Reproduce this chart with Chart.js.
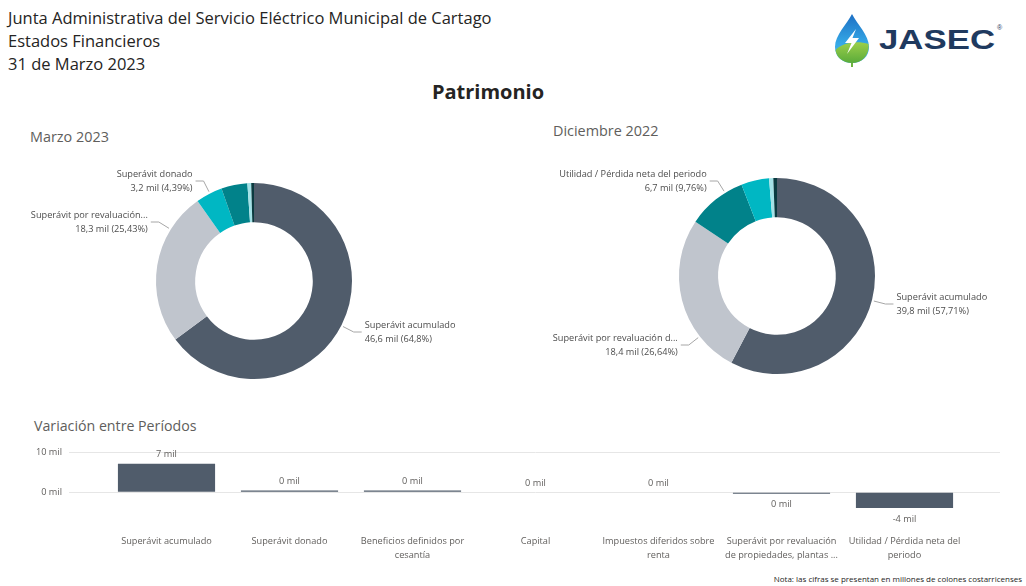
<!DOCTYPE html>
<html lang="es">
<head>
<meta charset="utf-8">
<title>Patrimonio</title>
<script src="https://cdn.jsdelivr.net/npm/chart.js@4.4.1/dist/chart.umd.min.js"></script>
<style>
  html, body { margin: 0; padding: 0; background: #fff; }
  body { width: 1026px; height: 586px; position: relative; overflow: hidden;
         font-family: "Open Sans", "Noto Sans", sans-serif; color: #252423; }
  .abs { position: absolute; white-space: nowrap; }
  #hdr { left: 8px; top: 6px; font-size: 16.5px; line-height: 23px; }
  #main { left: 0; width: 976px; top: 78px; text-align: center; font-weight: 700; font-size: 20px; line-height: 28px; }
  .sub { font-size: 14.4px; color: #605E5C; line-height: 18px; }
  #t1 { left: 30px; top: 128px; }
  #t2 { left: 553px; top: 122px; }
  #t3 { left: 34px; top: 417px; font-size: 14.2px; }
  #note { right: 4px; top: 573px; font-size: 8px; line-height: 12px; }
  canvas { position: absolute; }
  #logo { position: absolute; left: 826px; top: 10px; }
</style>
</head>
<body>
<div id="hdr" class="abs">Junta Administrativa del Servicio Eléctrico Municipal de Cartago<br>Estados Financieros<br>31 de Marzo 2023</div>

<svg id="logo" width="200" height="60" viewBox="0 0 200 60">
  <defs>
    <linearGradient id="gBlue" x1="0" y1="0" x2="0" y2="1">
      <stop offset="0" stop-color="#1d6fc4"/>
      <stop offset="0.6" stop-color="#35a8e6"/>
      <stop offset="1" stop-color="#54b9e8"/>
    </linearGradient>
    <linearGradient id="gGreen" x1="0" y1="0" x2="0" y2="1">
      <stop offset="0" stop-color="#9ccf4a"/>
      <stop offset="1" stop-color="#5aab3a"/>
    </linearGradient>
  </defs>
  <path d="M26 4 C21 14 9 25 9 37 C9 47 16.5 53 26 53 C35.5 53 43 47 43 37 C43 25 31 14 26 4 Z" fill="url(#gBlue)"/>
  <path d="M9.5 40 C16 33 30 30 42.6 34 C43.5 46 35.5 53 26 53 C17 53 10.5 47.5 9.5 40 Z" fill="url(#gGreen)"/>
  <path d="M26 53 L26 57" stroke="#6cb33f" stroke-width="2"/>
  <path d="M30 19 L19 33 L25.5 33 L21 44 L33 28 L26.5 28 Z" fill="#ffffff"/>
  <text x="53" y="38.5" font-family="Liberation Sans, Arial, sans-serif" font-weight="700" font-size="27" fill="#1f3a5f" textLength="116" lengthAdjust="spacingAndGlyphs">JASEC</text>
  <text x="171" y="20" font-family="Liberation Sans, Arial, sans-serif" font-size="7" fill="#1f3a5f">®</text>
</svg>

<div id="main" class="abs">Patrimonio</div>
<div id="t1" class="abs sub">Marzo 2023</div>
<div id="t2" class="abs sub">Diciembre 2022</div>
<div id="t3" class="abs sub">Variación entre Períodos</div>

<canvas id="cMarzo" width="480" height="250" style="left:20px;top:150px"></canvas>
<canvas id="cDic" width="500" height="250" style="left:520px;top:150px"></canvas>
<canvas id="cVar" width="1026" height="130" style="left:0;top:440px"></canvas>

<div id="note" class="abs">Nota: las cifras se presentan en millones de colones costarricenses</div>

<script>
// Patrimonio components (millones de colones, shown as "mil")
const categories = [
  "Superávit acumulado",
  "Superávit donado",
  "Beneficios definidos por cesantía",
  "Capital",
  "Impuestos diferidos sobre renta",
  "Superávit por revaluación de propiedades, plantas y equipo",
  "Utilidad / Pérdida neta del periodo"
];
const marzo2023     = [46.6, 3.157, 0.45, 0.327, 0, 18.286, 3.09];
const diciembre2022 = [39.8, 3.17, 0.48, 0.415, 0, 18.374, 6.731];
const variacion     = [7.2, 0.4, 0.4, 0, 0, -0.4, -4.0];
const yTickValues   = [0, 10];

const categoryColors = ["#505c6b", "#00b7c3", "#a3e2e7", "#0a3b40", "#8f9aa6", "#c0c5cd", "#01828a"];

const LABEL_FONT = '"Open Sans", "Noto Sans", sans-serif';
const TEXT_GRAY = "#605e5c";

function fmtDec(v, digits) {
  return v.toFixed(digits).replace(/\.?0+$/, "").replace(".", ",");
}
function fmtMil(v) { return v.toFixed(1).replace(".", ",") + " mil"; }

function truncate(ctx, text, maxW) {
  if (ctx.measureText(text).width <= maxW) return text;
  let t = text;
  while (t.length > 1 && ctx.measureText(t + "...").width > maxW) t = t.slice(0, -1);
  return t.replace(/\s+$/, "") + "...";
}

// Outside labels with elbow leader lines for the doughnuts
const calloutPlugin = {
  id: "callouts",
  afterDatasetsDraw(chart, args, opts) {
    const meta = chart.getDatasetMeta(0);
    const ds = chart.data.datasets[0];
    const total = ds.data.reduce((a, b) => a + b, 0);
    const ctx = chart.ctx;
    const a0 = meta.data[0];
    const cx = a0.x, cy = a0.y, r = a0.outerRadius;
    ctx.save();
    ctx.font = "9.2px " + LABEL_FONT;
    ctx.textBaseline = "middle";
    opts.items.forEach(it => {
      const i = chart.data.labels.indexOf(categories[it.cat]);
      if (i < 0) return;
      const arc = meta.data[i];
      const R = r + opts.elbow;
      const sign = it.side === "left" ? -1 : 1;
      const dx = sign * Math.sqrt(Math.max(R * R - it.dy * it.dy, 0));
      const ex = cx + dx, ey = cy + it.dy;
      let ang = Math.atan2(it.dy, dx);
      while (ang < arc.startAngle) ang += Math.PI * 2;
      const pad = Math.min(0.02, (arc.endAngle - arc.startAngle) / 4);
      ang = Math.min(Math.max(ang, arc.startAngle + pad), arc.endAngle - pad);
      const px = cx + (r + 2) * Math.cos(ang), py = cy + (r + 2) * Math.sin(ang);
      const hx = ex + sign * opts.tail;
      ctx.strokeStyle = "#a6a6a6";
      ctx.lineWidth = 1;
      ctx.beginPath();
      ctx.moveTo(px, py);
      ctx.lineTo(ex, ey);
      ctx.lineTo(hx, ey);
      ctx.stroke();
      const tx = hx + sign * 3;
      ctx.textAlign = it.side === "left" ? "right" : "left";
      const maxW = it.side === "left" ? tx - opts.minX : chart.width - 4 - tx;
      const v = ds.data[i];
      const pct = fmtDec(v / total * 100, 2);
      ctx.fillStyle = "#4d4d4d";
      ctx.fillText(truncate(ctx, chart.data.labels[i], maxW), tx, ey - 7);
      ctx.fillText(fmtMil(v) + " (" + pct + "%)", tx, ey + 7);
    });
    ctx.restore();
  }
};

function makeDonut(id, values, padding, items, minX) {
  const idx = values.map((v, i) => i).filter(i => values[i] > 0).sort((a, b) => values[b] - values[a]);
  new Chart(document.getElementById(id), {
    type: "doughnut",
    data: {
      labels: idx.map(i => categories[i]),
      datasets: [{
        data: idx.map(i => values[i]),
        backgroundColor: idx.map(i => categoryColors[i]),
        borderWidth: 0,
        hoverOffset: 0,
        offset: 0
      }]
    },
    options: {
      responsive: false,
      animation: false,
      events: [],
      cutout: "60%",
      layout: { padding },
      plugins: {
        legend: { display: false },
        tooltip: { enabled: false },
        callouts: { items, elbow: 14, tail: 8, minX }
      }
    },
    plugins: [calloutPlugin]
  });
}

makeDonut("cMarzo", marzo2023, { left: 136, right: 148, top: 33, bottom: 21 }, [
  { cat: 1, side: "left", dy: -100 },
  { cat: 5, side: "left", dy: -59 },
  { cat: 0, side: "right", dy: 51 }
], 10);

makeDonut("cDic", diciembre2022, { left: 159, right: 145, top: 28, bottom: 26 }, [
  { cat: 6, side: "left", dy: -95 },
  { cat: 0, side: "right", dy: 28 },
  { cat: 5, side: "left", dy: 69 }
], 28);

// Variation bar chart
const measureCtx = document.createElement("canvas").getContext("2d");
function wrapLabel(text, maxW, font) {
  measureCtx.font = font;
  const words = text.split(" ");
  const lines = [];
  let cur = "";
  words.forEach(w => {
    const t = cur ? cur + " " + w : w;
    if (measureCtx.measureText(t).width <= maxW || !cur) cur = t;
    else { lines.push(cur); cur = w; }
  });
  if (cur) lines.push(cur);
  if (lines.length > 2) {
    let l2 = lines[1];
    while (l2.includes(" ") && measureCtx.measureText(l2 + " ...").width > maxW) l2 = l2.slice(0, l2.lastIndexOf(" "));
    return [lines[0], l2 + " ..."];
  }
  return lines;
}

const barValueLabels = {
  id: "barValueLabels",
  afterDatasetsDraw(chart) {
    const meta = chart.getDatasetMeta(0);
    const ctx = chart.ctx;
    ctx.save();
    ctx.font = "9.2px " + LABEL_FONT;
    ctx.fillStyle = TEXT_GRAY;
    ctx.textAlign = "center";
    ctx.textBaseline = "middle";
    meta.data.forEach((bar, i) => {
      const v = chart.data.datasets[0].data[i];
      const n = Math.round(v);
      const txt = (n === 0 ? 0 : n) + " mil";
      const y = v >= 0 ? Math.min(bar.y, bar.base) - 9 : Math.max(bar.y, bar.base) + 11;
      ctx.fillText(txt, bar.x, y);
    });
    ctx.restore();
  }
};

const xFont = "9.2px " + LABEL_FONT;
new Chart(document.getElementById("cVar"), {
  type: "bar",
  data: {
    labels: categories,
    datasets: [{
      data: variacion,
      backgroundColor: "#505c6b",
      borderWidth: 0,
      categoryPercentage: 1,
      barPercentage: 0.79
    }]
  },
  options: {
    responsive: false,
    animation: false,
    events: [],
    layout: { padding: { left: 0, right: 26, top: 12, bottom: 0 } },
    plugins: { legend: { display: false }, tooltip: { enabled: false } },
    scales: {
      x: {
        grid: { display: false, drawTicks: false },
        border: { display: false },
        ticks: {
          padding: 18,
          color: TEXT_GRAY,
          font: { family: LABEL_FONT, size: 9.2, lineHeight: "14px" },
          maxRotation: 0,
          autoSkip: false,
          callback: (v, i) => wrapLabel(categories[i], 118, xFont)
        },
        afterFit: s => { s.height = 54; }
      },
      y: {
        min: -6, max: 10,
        position: "left",
        grid: { color: "#e6e6e6", lineWidth: 1, drawTicks: true, tickLength: 36, tickColor: "#e6e6e6" },
        border: { display: false },
        ticks: {
          padding: 7,
          color: TEXT_GRAY,
          font: { family: LABEL_FONT, size: 9.2 },
          callback: v => v + " mil"
        },
        afterBuildTicks: s => { s.ticks = yTickValues.map(v => ({ value: v })); },
        afterFit: s => { s.width = 105; }
      },
      y2: {
        min: -6, max: 10,
        position: "right",
        grid: { color: "#e6e6e6", drawOnChartArea: false, drawTicks: true, tickLength: 34, tickColor: "#e6e6e6" },
        border: { display: false },
        ticks: { display: false },
        afterBuildTicks: s => { s.ticks = yTickValues.map(v => ({ value: v })); },
        afterFit: s => { s.width = 34; }
      }
    }
  },
  plugins: [barValueLabels]
});
</script>
</body>
</html>
